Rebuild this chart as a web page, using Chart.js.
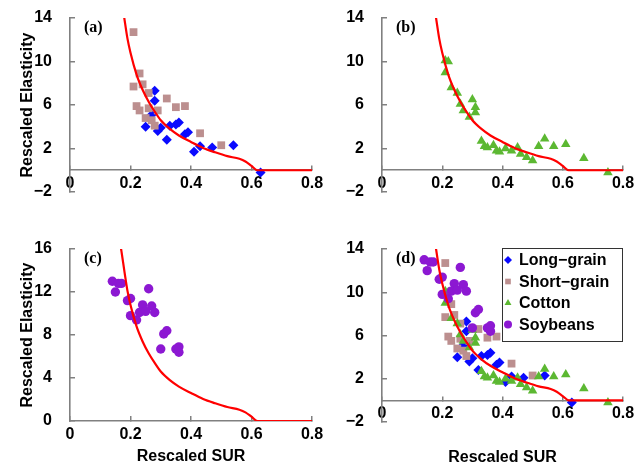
<!DOCTYPE html>
<html>
<head>
<meta charset="utf-8">
<script src="https://cdn.jsdelivr.net/npm/chart.js@4.4.1/dist/chart.umd.min.js"></script>
<style>
  html, body { margin: 0; padding: 0; background: #fff; overflow: hidden; }
  body { width: 636px; height: 466px; position: relative; }
  .panel { position: absolute; }
</style>
</head>
<body>
<div class="panel" style="left:0;top:0"><canvas id="chartA" width="332" height="233"></canvas></div>
<div class="panel" style="left:312px;top:0"><canvas id="chartB" width="324" height="233"></canvas></div>
<div class="panel" style="left:0;top:233px"><canvas id="chartC" width="332" height="233"></canvas></div>
<div class="panel" style="left:312px;top:233px"><canvas id="chartD" width="324" height="233"></canvas></div>
<script>
// ===== DATA =====
const xTicks = [0, 0.2, 0.4, 0.6, 0.8];
const yTicksTop = [-2, 2, 6, 10, 14];
const yTicksSoy = [0, 4, 8, 12, 16];

const longX = [0.28, 0.28, 0.27, 0.25, 0.29, 0.30, 0.32, 0.33, 0.35, 0.36, 0.38, 0.39, 0.41, 0.43, 0.47, 0.54, 0.63];
const longY = [7.3, 6.4, 5.1, 4.0, 3.6, 3.9, 2.8, 4.1, 4.2, 4.4, 3.3, 3.5, 1.7, 2.2, 2.1, 2.3, -0.2];

const shortX = [0.21, 0.23, 0.21, 0.24, 0.26, 0.32, 0.22, 0.23, 0.26, 0.29, 0.35, 0.38, 0.25, 0.27, 0.28, 0.43, 0.50];
const shortY = [12.7, 8.9, 7.7, 7.9, 7.1, 6.6, 5.9, 5.5, 5.7, 5.5, 5.8, 5.9, 4.8, 4.6, 4.1, 3.4, 2.3];

const cottonX = [0.21, 0.22, 0.21, 0.23, 0.25, 0.26, 0.27, 0.29, 0.30, 0.31, 0.31, 0.33, 0.34, 0.35, 0.37, 0.38, 0.39, 0.41, 0.43, 0.45, 0.46, 0.48, 0.50, 0.52, 0.54, 0.57, 0.61, 0.67, 0.75];
const cottonY = [10.1, 10.0, 9.0, 7.6, 7.1, 6.1, 5.5, 4.9, 6.5, 5.3, 5.8, 2.7, 2.2, 2.1, 2.3, 1.8, 1.7, 2.0, 1.8, 2.1, 1.5, 1.2, 0.9, 2.2, 2.9, 2.2, 2.4, 1.1, -0.2];

const soyX = [0.14, 0.16, 0.17, 0.15, 0.26, 0.19, 0.20, 0.24, 0.27, 0.20, 0.22, 0.23, 0.25, 0.28, 0.31, 0.32, 0.30, 0.35, 0.36, 0.36];
const soyY = [13.0, 12.8, 12.8, 12.0, 12.3, 11.2, 11.4, 10.8, 10.7, 9.8, 9.4, 10.1, 10.2, 10.1, 8.1, 8.4, 6.7, 6.7, 6.4, 6.9];

// fitted curve (red line)
const curveX = [0.16, 0.17, 0.18, 0.19, 0.2, 0.22, 0.24, 0.26, 0.28, 0.3, 0.33, 0.36, 0.4, 0.44, 0.48, 0.52, 0.56, 0.58, 0.6, 0.62, 0.8];
const curveY = [17.5, 15.8, 13.9, 12.1, 10.8, 8.8, 7.4, 6.3, 5.4, 4.6, 3.8, 3.2, 2.6, 2.05, 1.65, 1.3, 1.05, 0.8, 0.4, 0, 0];

const pts = (xs, ys) => xs.map((x, i) => ({ x: x, y: ys[i] }));

// ===== STYLES =====
Chart.defaults.font.family = '"Liberation Sans", Arial, sans-serif';
Chart.defaults.font.weight = 'bold';
Chart.defaults.font.size = 16;
Chart.defaults.color = '#000';
Chart.defaults.animation = false;

const axisGray = '#808080';

const sets = {
    long:   { label: 'Long\u2212grain',  data: pts(longX, longY),     pointStyle: 'rectRot',  pointRadius: 5,   backgroundColor: '#0a0aff', borderColor: '#0a0aff', borderWidth: 0, order: 4 },
    short:  { label: 'Short\u2212grain', data: pts(shortX, shortY),   pointStyle: 'rect',     pointRadius: 5.5, backgroundColor: '#bc8f8f', borderColor: '#bc8f8f', borderWidth: 0, order: 3 },
    cotton: { label: 'Cotton',           data: pts(cottonX, cottonY), pointStyle: 'triangle', pointRadius: 5.5, backgroundColor: '#5cb832', borderColor: '#5cb832', borderWidth: 0, order: 2 },
    soy:    { label: 'Soybeans',         data: pts(soyX, soyY),       pointStyle: 'circle',   pointRadius: 4.7, backgroundColor: '#8c18d2', borderColor: '#8c18d2', borderWidth: 0, order: 1 }
};

function curveSet() {
    return {
        type: 'line',
        label: 'fit',
        data: pts(curveX, curveY),
        borderColor: '#ff0000',
        borderWidth: 2.2,
        pointRadius: 0,
        showLine: true,
        fill: false,
        cubicInterpolationMode: 'monotone',
        order: 0
    };
}

// panel letter + legend inside (d)
const panelExtras = {
    id: 'panelExtras',
    afterDraw(chart, args, opts) {
        const ctx = chart.ctx;
        const area = chart.chartArea;
        ctx.save();
        ctx.fillStyle = '#000';
        ctx.font = 'bold 16px "Liberation Serif", "Times New Roman", serif';
        ctx.textBaseline = 'middle';
        ctx.textAlign = 'left';
        ctx.fillText(opts.letter, area.left + 14, area.top + 10);

        if (opts.legend) {
            const w = 121, h = 94;
            const bx = area.right - w, by = area.top - 1;
            ctx.fillStyle = '#fff';
            ctx.fillRect(bx, by, w, h);
            ctx.strokeStyle = '#333';
            ctx.lineWidth = 1;
            ctx.strokeRect(bx + 0.5, by + 0.5, w - 1, h - 1);
            const items = chart.data.datasets.filter(d => d.type !== 'line');
            ctx.font = 'bold 16px "Liberation Sans", Arial, sans-serif';
            items.forEach((d, i) => {
                const cy = by + 12 + i * 21.5;
                ctx.fillStyle = d.backgroundColor;
                ctx.strokeStyle = d.borderColor;
                Chart.helpers.drawPoint(ctx, { pointStyle: d.pointStyle, radius: 4, borderWidth: 0, rotation: 0 }, bx + 6, cy);
                ctx.fillStyle = '#000';
                ctx.fillText(d.label, bx + 17, cy + 1);
            });
        }
        ctx.restore();
    }
};

const minusSign = v => String(v).replace('-', '\u2212');

function makePanel(id, opt) {
    const ctx = document.getElementById(id).getContext('2d');
    return new Chart(ctx, {
        type: 'scatter',
        data: { datasets: opt.datasets },
        options: {
            responsive: false,
            devicePixelRatio: 1,
            layout: { padding: opt.padding },
            plugins: {
                legend: { display: false },
                tooltip: { enabled: false },
                panelExtras: { letter: opt.letter, legend: !!opt.legend }
            },
            scales: {
                x: {
                    type: 'linear',
                    position: opt.xPos,
                    min: 0, max: 0.8,
                    afterBuildTicks: s => { s.ticks = xTicks.map(v => ({ value: v })); },
                    afterFit: s => {
                        s.height = opt.xHeight;
                        s.paddingLeft = 0; s.paddingRight = 0;
                    },
                    ticks: { autoSkip: false, maxRotation: 0, padding: 9, callback: minusSign },
                    grid: { drawOnChartArea: false, drawTicks: true, tickLength: -5, color: axisGray, lineWidth: 1.5 },
                    border: { color: axisGray, width: 1.6 },
                    title: {
                        display: !!opt.xTitle,
                        text: 'Rescaled SUR',
                        font: { size: 16, weight: 'bold' },
                        padding: { top: 0, bottom: opt.xTitlePad || 0 }
                    }
                },
                y: {
                    type: 'linear',
                    position: 'left',
                    min: opt.yTicks[0], max: opt.yTicks[opt.yTicks.length - 1],
                    afterBuildTicks: s => { s.ticks = opt.yTicks.map(v => ({ value: v })); },
                    afterFit: s => {
                        s.width = 70;
                        s.paddingTop = 0; s.paddingBottom = 0;
                    },
                    ticks: { autoSkip: false, padding: 23, callback: minusSign },
                    grid: { drawOnChartArea: false, drawTicks: true, tickLength: -5, color: axisGray, lineWidth: 1.5 },
                    border: { color: axisGray, width: 1.6 },
                    title: {
                        display: !!opt.yTitle,
                        text: 'Rescaled Elasticity',
                        font: { size: 16, weight: 'bold' },
                        padding: { top: 18, bottom: 0 }
                    }
                }
            }
        },
        plugins: [panelExtras]
    });
}

// (a) long-grain + short-grain
makePanel('chartA', {
    letter: '(a)',
    datasets: [curveSet(), sets.long, sets.short],
    padding: { left: 0, top: 18, right: 20, bottom: 41 },
    xPos: { y: 0 }, xHeight: 30,
    yTicks: yTicksTop, yTitle: true
});

// (b) cotton
makePanel('chartB', {
    letter: '(b)',
    datasets: [curveSet(), sets.cotton],
    padding: { left: 0, top: 18, right: 13, bottom: 41 },
    xPos: { y: 0 }, xHeight: 30,
    yTicks: yTicksTop
});

// (c) soybeans
makePanel('chartC', {
    letter: '(c)',
    datasets: [curveSet(), sets.soy],
    padding: { left: 0, top: 16, right: 20, bottom: 0 },
    xPos: 'bottom', xHeight: 45,
    yTicks: yTicksSoy, yTitle: true, xTitle: true
});

// (d) all together + legend
makePanel('chartD', {
    letter: '(d)',
    datasets: [curveSet(), sets.long, sets.short, sets.cotton, sets.soy],
    padding: { left: 0, top: 16, right: 13, bottom: 44 },
    xPos: { y: 0 }, xHeight: 67,
    yTicks: yTicksTop, xTitle: true, legend: true
});
</script>
</body>
</html>
